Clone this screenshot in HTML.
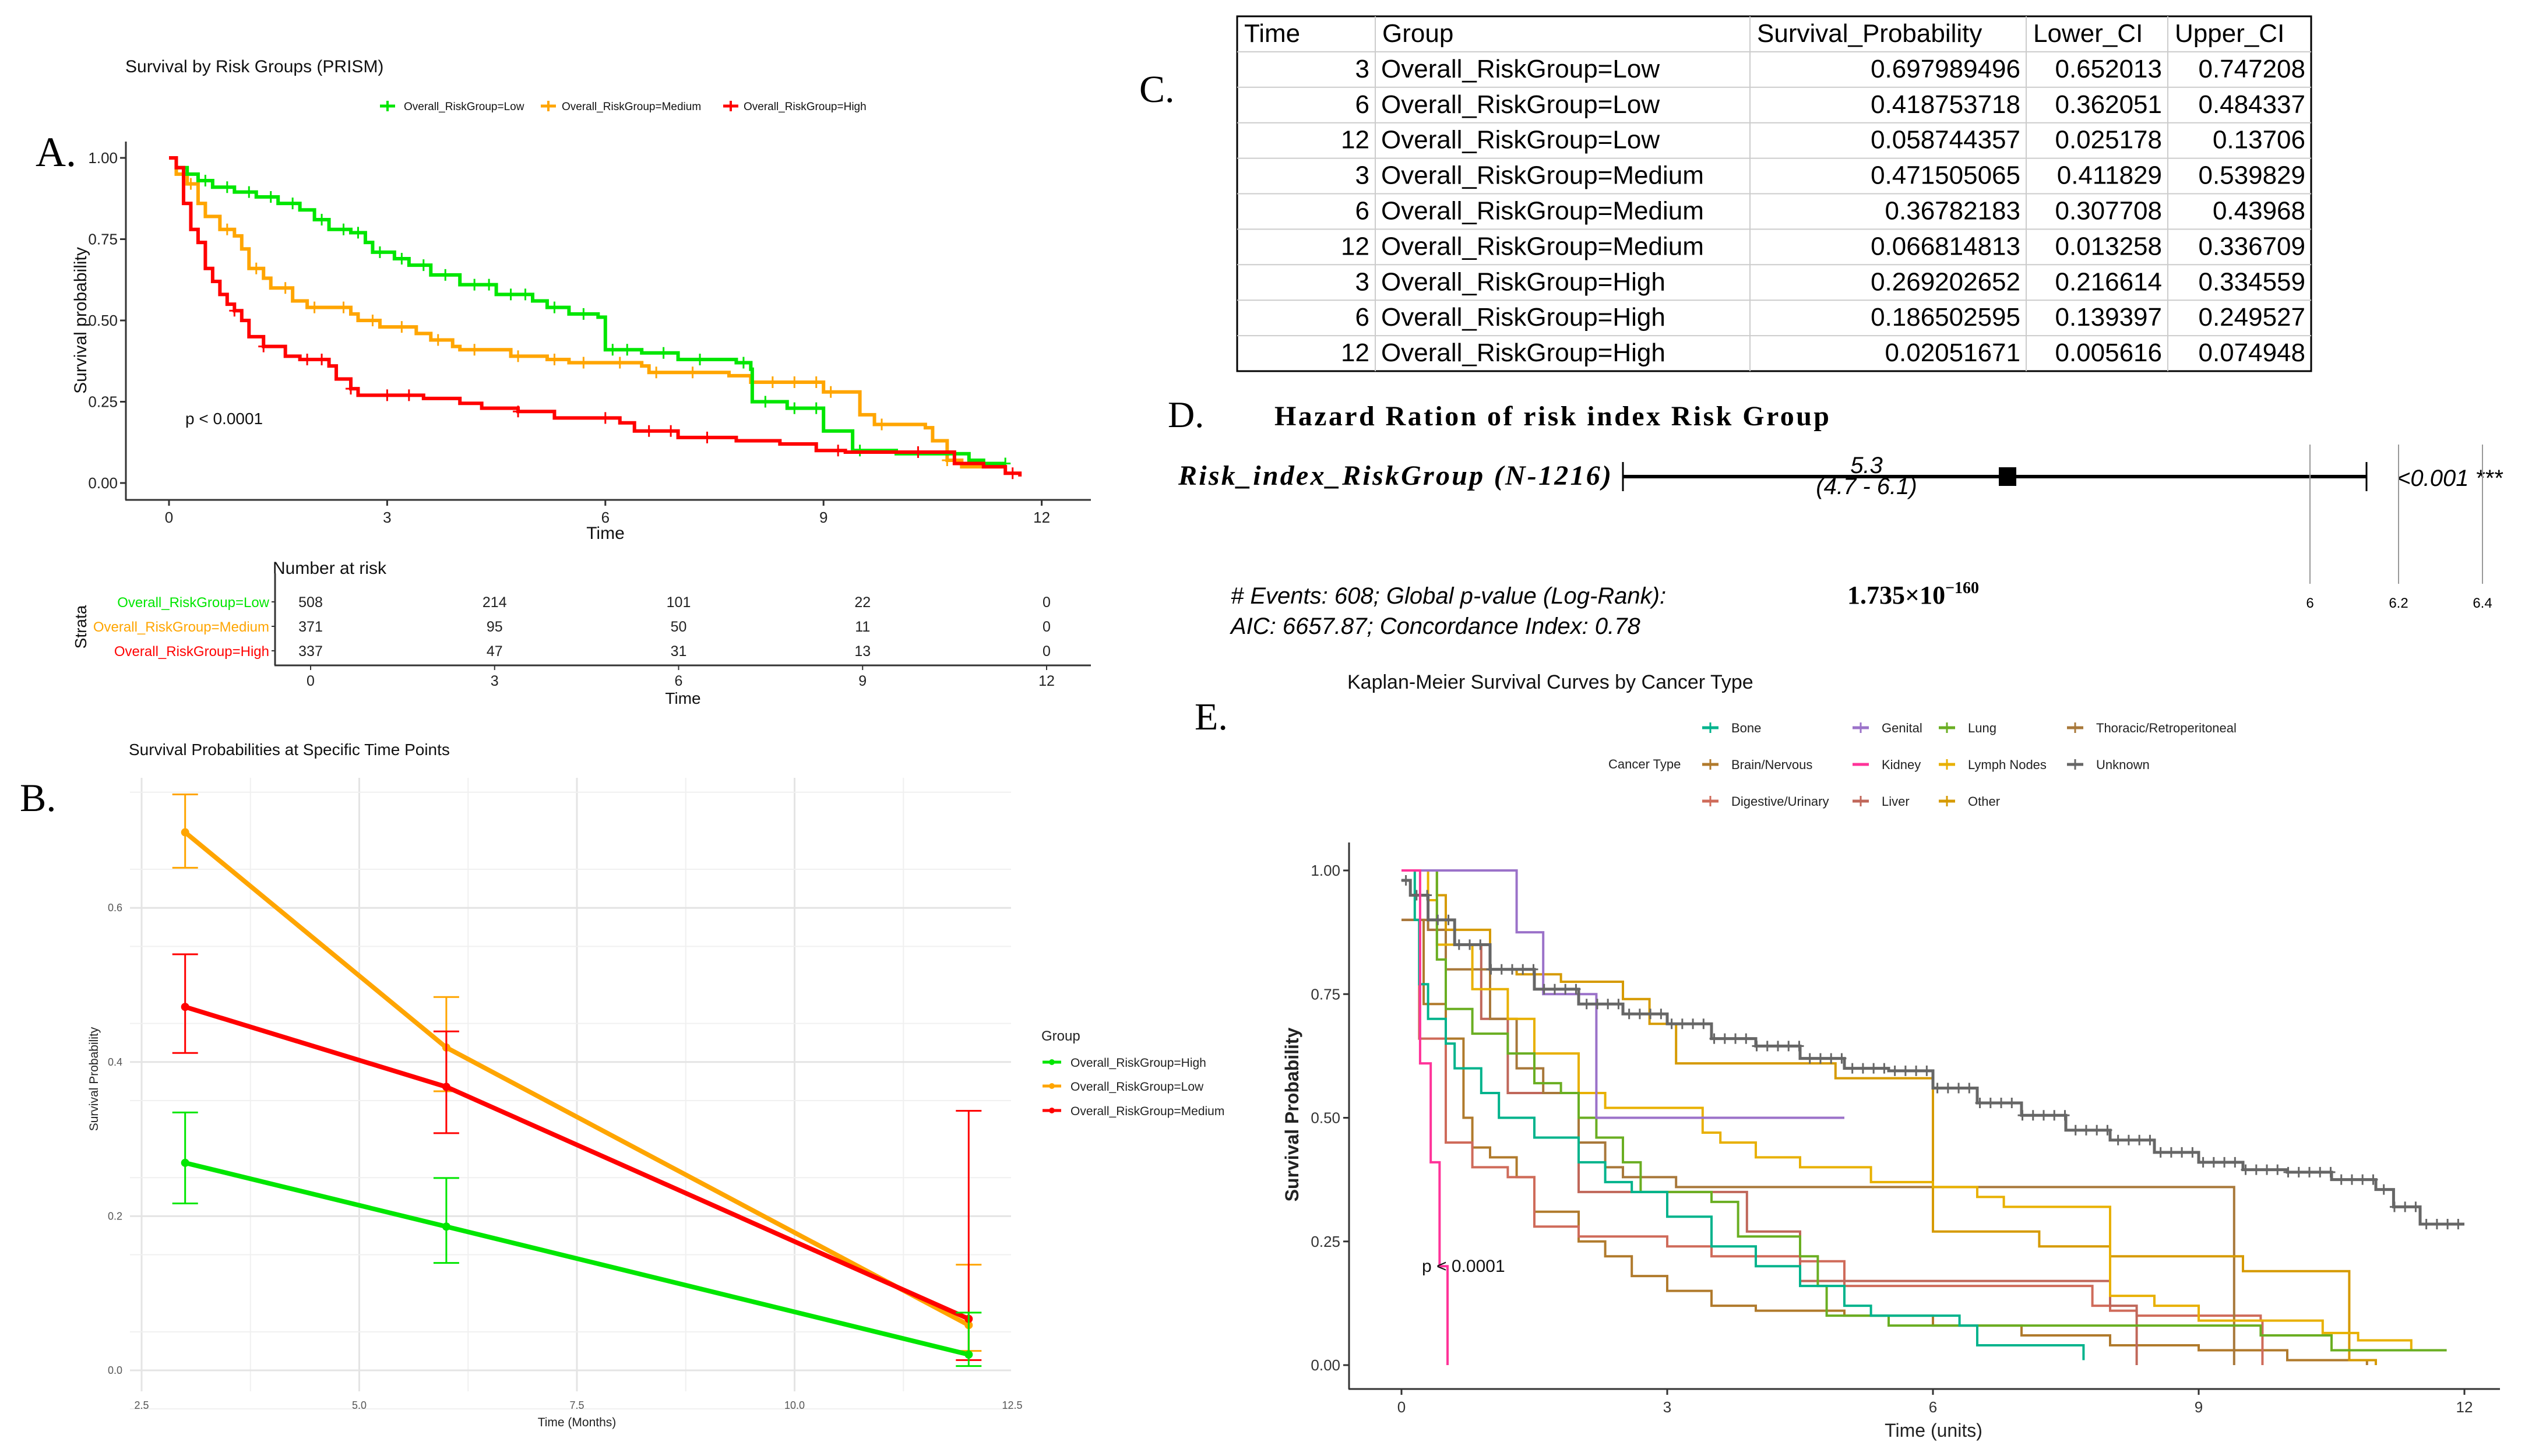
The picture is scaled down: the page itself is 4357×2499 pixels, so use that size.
<!DOCTYPE html>
<html><head><meta charset="utf-8"><style>
html,body{margin:0;padding:0;background:#fff;}
svg{display:block;font-family:"Liberation Sans",Arial,sans-serif;}
</style></head><body>
<svg id="fig" xmlns="http://www.w3.org/2000/svg" width="4357" height="2499" viewBox="0 0 4357 2499">
<rect width="4357" height="2499" fill="#fff"/>
<!-- Panel A static -->
<g id="panelA">
<text x="61" y="285" font-family="Liberation Serif,serif" font-size="72">A.</text>
<text x="215" y="124" font-size="30" fill="#111">Survival by Risk Groups (PRISM)</text>
<g font-size="19" fill="#111">
<line x1="652" y1="182" x2="678" y2="182" stroke="#00e600" stroke-width="5"/><line x1="665" y1="173" x2="665" y2="191" stroke="#00e600" stroke-width="4"/>
<text x="693" y="189">Overall_RiskGroup=Low</text>
<line x1="928" y1="182" x2="954" y2="182" stroke="#ffa500" stroke-width="5"/><line x1="941" y1="173" x2="941" y2="191" stroke="#ffa500" stroke-width="4"/>
<text x="964" y="189">Overall_RiskGroup=Medium</text>
<line x1="1241" y1="182" x2="1267" y2="182" stroke="#ff0000" stroke-width="5"/><line x1="1254" y1="173" x2="1254" y2="191" stroke="#ff0000" stroke-width="4"/>
<text x="1276" y="189">Overall_RiskGroup=High</text>
</g>
<line x1="216" y1="243" x2="216" y2="858" stroke="#333" stroke-width="3"/>
<line x1="215" y1="858" x2="1872" y2="858" stroke="#333" stroke-width="3"/>
<text transform="translate(148,550) rotate(-90)" text-anchor="middle" font-size="30" fill="#111">Survival probability</text>
<text x="1039" y="925" text-anchor="middle" font-size="30" fill="#111">Time</text>
<text x="318" y="728" font-size="28" fill="#111">p &lt; 0.0001</text>
<g id="aTicks"></g>
<g id="aCurves"></g>
<!-- risk table -->
<text x="468" y="985" font-size="30" fill="#111">Number at risk</text>
<line x1="472" y1="984" x2="472" y2="1142" stroke="#333" stroke-width="3"/>
<line x1="471" y1="1142" x2="1872" y2="1142" stroke="#333" stroke-width="3"/>
<text transform="translate(148,1076) rotate(-90)" text-anchor="middle" font-size="28" fill="#111">Strata</text>
<text x="1172" y="1208" text-anchor="middle" font-size="28" fill="#111">Time</text>
<g id="riskTable"></g>
</g>
<!-- Panel B -->
<g id="panelB">
<text x="34" y="1392" font-family="Liberation Serif,serif" font-size="68">B.</text>
<text x="221" y="1296" font-size="28" fill="#111">Survival Probabilities at Specific Time Points</text>
<g id="bGrid"></g>
<g id="bMarks"></g>
<text x="990" y="2448" text-anchor="middle" font-size="21" fill="#222">Time (Months)</text>
<text transform="translate(168,1852) rotate(-90)" text-anchor="middle" font-size="21" fill="#222">Survival Probability</text>
<g font-size="21" fill="#222">
<text x="1787" y="1786" font-size="24">Group</text>
<line x1="1789" y1="1823" x2="1821" y2="1823" stroke="#00e600" stroke-width="5"/><circle cx="1805" cy="1823" r="5" fill="#00e600"/>
<text x="1837" y="1831">Overall_RiskGroup=High</text>
<line x1="1789" y1="1864" x2="1821" y2="1864" stroke="#ffa500" stroke-width="5"/><circle cx="1805" cy="1864" r="5" fill="#ffa500"/>
<text x="1837" y="1872">Overall_RiskGroup=Low</text>
<line x1="1789" y1="1906" x2="1821" y2="1906" stroke="#ff0000" stroke-width="5"/><circle cx="1805" cy="1906" r="5" fill="#ff0000"/>
<text x="1837" y="1914">Overall_RiskGroup=Medium</text>
</g>
</g>
<!-- Panel C -->
<g id="panelC">
<text x="1955" y="175" font-family="Liberation Serif,serif" font-size="66">C.</text>
<g id="cTable"></g>
</g>
<!-- Panel D -->
<g id="panelD">
<text x="2004" y="733" font-family="Liberation Serif,serif" font-size="64">D.</text>
<text x="2187" y="730" font-family="Liberation Serif,serif" font-weight="bold" font-size="48" textLength="952">Hazard Ration of risk index  Risk Group</text>
<text x="2022" y="832" font-family="Liberation Serif,serif" font-style="italic" font-weight="bold" font-size="48" textLength="743">Risk_index_RiskGroup (N-1216)</text>
<line x1="2785" y1="818" x2="4061" y2="818" stroke="#000" stroke-width="6"/>
<line x1="2785" y1="793" x2="2785" y2="843" stroke="#000" stroke-width="3"/>
<line x1="4061" y1="793" x2="4061" y2="843" stroke="#000" stroke-width="3"/>
<rect x="3430" y="802" width="30" height="32" fill="#000"/>
<text x="3203" y="812" text-anchor="middle" font-size="40" font-style="italic">5.3</text>
<text x="3203" y="848" text-anchor="middle" font-size="40" font-style="italic">(4.7 - 6.1)</text>
<text x="4113" y="834" font-size="40" font-style="italic">&lt;0.001 ***</text>
<line x1="3964" y1="763" x2="3964" y2="1002" stroke="#999" stroke-width="2"/>
<line x1="4116" y1="763" x2="4116" y2="1002" stroke="#999" stroke-width="2"/>
<line x1="4260" y1="763" x2="4260" y2="1002" stroke="#999" stroke-width="2"/>
<text x="3964" y="1043" text-anchor="middle" font-size="24">6</text>
<text x="4116" y="1043" text-anchor="middle" font-size="24">6.2</text>
<text x="4260" y="1043" text-anchor="middle" font-size="24">6.4</text>
<text x="2112" y="1036" font-size="40" font-style="italic"># Events: 608; Global p-value (Log-Rank):</text>
<text x="3170" y="1036" font-family="Liberation Serif,serif" font-weight="bold" font-size="44">1.735×10<tspan dy="-18" font-size="28">−160</tspan></text>
<text x="2112" y="1088" font-size="40" font-style="italic">AIC: 6657.87; Concordance Index: 0.78</text>
</g>
<!-- Panel E -->
<g id="panelE">
<text x="2050" y="1252" font-family="Liberation Serif,serif" font-size="66">E.</text>
<text x="2312" y="1182" font-size="34" fill="#111">Kaplan-Meier Survival Curves by Cancer Type</text>
<text x="2760" y="1319" font-size="22" fill="#222">Cancer Type</text>
<g id="eLegend"></g>
<line x1="2315" y1="1446" x2="2315" y2="2384" stroke="#333" stroke-width="3"/>
<line x1="2314" y1="2384" x2="4290" y2="2384" stroke="#333" stroke-width="3"/>
<text transform="translate(2228,1913) rotate(-90)" text-anchor="middle" font-size="32" font-weight="bold" fill="#222">Survival Probability</text>
<text x="3318" y="2466" text-anchor="middle" font-size="32" fill="#222">Time (units)</text>
<g id="eTicks"></g>
<g id="eCurves"></g>
<text x="2440" y="2183" font-size="30" fill="#111">p &lt; 0.0001</text>
</g>
</svg>
<script>
const NS="http://www.w3.org/2000/svg";
function mk(tag,attrs,parent,txt){const e=document.createElementNS(NS,tag);for(const k in attrs)e.setAttribute(k,attrs[k]);if(txt!==undefined)e.textContent=txt;parent.appendChild(e);return e;}
function stepPath(pts,fx,fy){let d="M"+fx(pts[0][0])+","+fy(pts[0][1]);for(let i=1;i<pts.length;i++){d+="H"+fx(pts[i][0])+"V"+fy(pts[i][1]);}return d;}
function stepAt(pts,t){let s=pts[0][1];for(const p of pts){if(p[0]<=t)s=p[1];}return s;}

// ===== Panel A data =====
const aTicksX=[0,3,6,12/4*3,12];
const aTicksY=[0,0.25,0.5,0.75,1];
const aLow=[[0,1],[0.1,0.97],[0.25,0.95],[0.4,0.93],[0.6,0.91],[0.9,0.895],[1.2,0.88],[1.5,0.86],[1.8,0.84],[2,0.81],[2.2,0.78],[2.5,0.77],[2.7,0.74],[2.8,0.71],[3.1,0.69],[3.3,0.67],[3.6,0.64],[4,0.61],[4.5,0.58],[5,0.56],[5.2,0.54],[5.5,0.52],[5.9,0.51],[6,0.41],[6.5,0.40],[7,0.38],[7.8,0.37],[8,0.35],[8.02,0.25],[8.5,0.23],[9,0.16],[9.4,0.10],[10,0.09],[10.8,0.09],[11,0.07],[11.2,0.06],[11.5,0.06]];
const aMed=[[0,1],[0.1,0.95],[0.25,0.92],[0.4,0.86],[0.5,0.82],[0.7,0.78],[0.9,0.76],[1.0,0.72],[1.1,0.66],[1.3,0.63],[1.4,0.6],[1.7,0.56],[1.9,0.54],[2.5,0.52],[2.6,0.50],[2.9,0.48],[3.4,0.46],[3.6,0.44],[3.9,0.42],[4.0,0.41],[4.7,0.39],[5.2,0.38],[5.5,0.37],[6.5,0.36],[6.6,0.34],[7.7,0.33],[8.0,0.31],[9.0,0.28],[9.5,0.21],[9.7,0.18],[10.4,0.17],[10.5,0.13],[10.7,0.07],[10.9,0.05],[11.5,0.05]];
const aHigh=[[0,1],[0.1,0.97],[0.2,0.86],[0.3,0.78],[0.4,0.74],[0.5,0.66],[0.6,0.62],[0.7,0.58],[0.8,0.55],[0.9,0.53],[1.0,0.5],[1.1,0.45],[1.3,0.42],[1.6,0.39],[1.8,0.38],[2.2,0.36],[2.3,0.32],[2.5,0.29],[2.6,0.27],[3.5,0.26],[4.0,0.245],[4.3,0.23],[4.8,0.22],[5.3,0.2],[6.2,0.185],[6.4,0.16],[7.0,0.14],[7.8,0.13],[8.4,0.12],[8.9,0.10],[9.3,0.095],[10.8,0.06],[11.2,0.05],[11.5,0.03],[11.7,0.02]];
const aCensLow=[0.5,0.8,1.1,1.4,1.7,2.1,2.4,2.6,2.9,3.2,3.5,3.8,4.2,4.4,4.7,4.9,5.3,5.7,6.1,6.3,6.8,7.3,7.9,8.2,8.6,8.9,9.5,11.5];
const aCensMed=[0.3,0.8,1.2,1.6,2.0,2.4,2.8,3.2,3.7,4.2,4.8,5.3,5.7,6.2,6.7,7.2,8.3,8.6,8.9,9.1,9.8,10.7];
const aCensHigh=[0.9,1.3,1.9,2.1,2.5,3.0,3.3,4.8,6.0,6.6,6.9,7.4,9.2,10.3,11.6];
const riskRows=["Overall_RiskGroup=Low","Overall_RiskGroup=Medium","Overall_RiskGroup=High"];
const riskLow=[508,214,101,22,0];
const riskMed=[371,95,50,11,0];
const riskHigh=[337,47,31,13,0];
const riskTimes=[0,3,6,9,12];

const ax=t=>290+t*124.8, ay=s=>829-s*558;
const aT=document.getElementById('aTicks');
[0,3,6,9,12].forEach(t=>{const l=mk('line',{x1:ax(t),y1:858,x2:ax(t),y2:868,stroke:'#333','stroke-width':3},aT);


const tx=mk('text',{x:ax(t),y:897,'text-anchor':'middle','font-size':26,fill:'#222'},aT,String(t));

});
aTicksY.forEach(s=>{mk('line',{x1:206,y1:ay(s),x2:216,y2:ay(s),stroke:'#333','stroke-width':3},aT);
const tx=mk('text',{x:202,y:ay(s)+9,'text-anchor':'end','font-size':26,fill:'#222'},aT,s.toFixed(2));

});
const aC=document.getElementById('aCurves');
[[aMed,aCensMed,'#ffa500','curve-medium'],[aLow,aCensLow,'#00e600','curve-low'],[aHigh,aCensHigh,'#ff0000','curve-high']].forEach(([pts,cens,col,nm])=>{
 const p=mk('path',{d:stepPath(pts,ax,ay),fill:'none',stroke:col,'stroke-width':6},aC);
 
 
 cens.forEach(t=>{const x=ax(t),y=ay(stepAt(pts,t));mk('path',{d:`M${x-9},${y}H${x+9}M${x},${y-10}V${y+10}`,stroke:col,'stroke-width':3},aC);});
});
const rT=document.getElementById('riskTable');
const rCols=['#00e600','#ffa500','#ff0000'];
const rx=t=>533+t*105.25;
[riskLow,riskMed,riskHigh].forEach((row,i)=>{const y=1033+i*42;
 const lb=mk('text',{x:462,y:y+9,'text-anchor':'end','font-size':24,fill:rCols[i]},rT,riskRows[i]);
 
 
 mk('line',{x1:466,y1:y,x2:472,y2:y,stroke:'#333','stroke-width':2},rT);
 row.forEach((v,j)=>{const c=mk('text',{x:rx(riskTimes[j]),y:y+9,'text-anchor':'middle','font-size':25,fill:'#222'},rT,String(v));
 
 });});
riskTimes.forEach(t=>{mk('line',{x1:rx(t),y1:1142,x2:rx(t),y2:1150,stroke:'#333','stroke-width':2},rT);mk('text',{x:rx(t),y:1177,'text-anchor':'middle','font-size':25,fill:'#222'},rT,String(t));});

// ===== Panel B data =====
const bTimes=[3,6,12];
const bHighEst=[0.2692,0.1865,0.0205];
const bHighLo=[0.2166,0.1394,0.0056];
const bHighHi=[0.3346,0.2495,0.0749];
const bLowEst=[0.6980,0.4188,0.0587];
const bLowLo=[0.6520,0.3621,0.0252];
const bLowHi=[0.7472,0.4843,0.1371];
const bMedEst=[0.4715,0.3678,0.0668];
const bMedLo=[0.4118,0.3077,0.0133];
const bMedHi=[0.5398,0.4397,0.3367];
const bXTicks=[2.5,5.0,7.5,10.0,12.5];
const bYTicks=[0.0,0.2,0.4,0.6];
const bx=t=>243+(t-2.5)*149.4, by=s=>2352-s*1323;
const bG=document.getElementById('bGrid');
for(let t=1.25;t<=13.75;t+=1.25){const maj=Math.abs(t/2.5-Math.round(t/2.5))<1e-6;const x=bx(t);if(x<223||x>1735)continue;mk('line',{x1:x,y1:1335,x2:x,y2:2388,stroke:maj?'#e4e4e4':'#f0f0f0','stroke-width':maj?3:2},bG);}
for(let s=-0.05;s<=0.75;s+=0.1){const y=by(s);mk('line',{x1:223,y1:y,x2:1735,y2:y,stroke:'#f0f0f0','stroke-width':2},bG);}
bYTicks.forEach(s=>{mk('line',{x1:223,y1:by(s),x2:1735,y2:by(s),stroke:'#e4e4e4','stroke-width':3},bG);
const t=mk('text',{x:210,y:by(s)+6,'text-anchor':'end','font-size':18,fill:'#555'},bG,s.toFixed(1));

});
bXTicks.forEach(v=>{const t=mk('text',{x:bx(v),y:2418,'text-anchor':'middle','font-size':18,fill:'#555'},bG,v.toFixed(1));

});
const bM=document.getElementById('bMarks');
[[bLowEst,bLowLo,bLowHi,'#ffa500','series-low'],[bMedEst,bMedLo,bMedHi,'#ff0000','series-medium'],[bHighEst,bHighLo,bHighHi,'#00e600','series-high']].forEach(([e,lo,hi,col,nm])=>{
 bTimes.forEach((t,i)=>{const x=bx(t);const g=mk('g',{},bM);
 
 
 mk('path',{d:`M${x},${by(lo[i])}V${by(hi[i])}M${x-22},${by(lo[i])}H${x+22}M${x-22},${by(hi[i])}H${x+22}`,stroke:col,'stroke-width':3,fill:'none'},g);});
 const pl=mk('polyline',{points:bTimes.map((t,i)=>bx(t)+','+by(e[i])).join(' '),fill:'none',stroke:col,'stroke-width':8},bM);
 
 
 bTimes.forEach((t,i)=>{const c=mk('circle',{cx:bx(t),cy:by(e[i]),r:7,fill:col},bM);
 
 });
});

// ===== Panel C table =====
const cHeader=["Time","Group","Survival_Probability","Lower_CI","Upper_CI"];
const cTime=[3,6,12,3,6,12,3,6,12];
const cGroup=["Overall_RiskGroup=Low","Overall_RiskGroup=Low","Overall_RiskGroup=Low","Overall_RiskGroup=Medium","Overall_RiskGroup=Medium","Overall_RiskGroup=Medium","Overall_RiskGroup=High","Overall_RiskGroup=High","Overall_RiskGroup=High"];
const cSurv=["0.697989496","0.418753718","0.058744357","0.471505065","0.36782183","0.066814813","0.269202652","0.186502595","0.02051671"];
const cLower=["0.652013","0.362051","0.025178","0.411829","0.307708","0.013258","0.216614","0.139397","0.005616"];
const cUpper=["0.747208","0.484337","0.13706","0.539829","0.43968","0.336709","0.334559","0.249527","0.074948"];
const cT=document.getElementById('cTable');
const colX=[2123,2360,3003,3477,3720,3966];
const rowH=60.9,top0=28;
mk('rect',{x:2123,y:top0,width:3966-2123,height:rowH*10,fill:'#fff',stroke:'#000','stroke-width':3},cT);
for(let r=1;r<10;r++)mk('line',{x1:2123,y1:top0+r*rowH,x2:3966,y2:top0+r*rowH,stroke:'#ccc','stroke-width':2},cT);
for(let c=1;c<5;c++)mk('line',{x1:colX[c],y1:top0,x2:colX[c],y2:top0+rowH*10,stroke:'#ccc','stroke-width':2},cT);
cHeader.forEach((h,c)=>{const t=mk('text',{x:colX[c]+12,y:top0+44,'font-size':44},cT,h);

});
for(let r=0;r<9;r++){const y=top0+(r+1)*rowH+44;
 mk('text',{x:colX[1]-10,y:y,'font-size':44,'text-anchor':'end'},cT,String(cTime[r]));
 mk('text',{x:colX[1]+10,y:y,'font-size':44},cT,cGroup[r]);
 mk('text',{x:colX[3]-10,y:y,'font-size':44,'text-anchor':'end'},cT,cSurv[r]);
 mk('text',{x:colX[4]-10,y:y,'font-size':44,'text-anchor':'end'},cT,cLower[r]);
 mk('text',{x:colX[5]-10,y:y,'font-size':44,'text-anchor':'end'},cT,cUpper[r]);}

// ===== Panel E data =====
const eNames=["Bone","Brain/Nervous","Digestive/Urinary","Genital","Kidney","Liver","Lung","Lymph Nodes","Other","Thoracic/Retroperitoneal","Unknown"];
const eColors=["#00b38c","#b07a2c","#cf6b5a","#9b72c9","#ff3399","#c0675a","#6aae22","#e8b000","#d69a00","#a8783a","#666666"];
const eBone=[[0,1],[0.15,0.9],[0.2,0.77],[0.3,0.70],[0.5,0.65],[0.6,0.6],[0.9,0.55],[1.1,0.5],[1.5,0.46],[2,0.41],[2.3,0.37],[2.6,0.35],[3,0.30],[3.5,0.24],[4,0.20],[4.5,0.16],[5,0.12],[5.3,0.10],[6.3,0.08],[6.5,0.04],[7.5,0.04],[7.7,0.01]];
const eBrain=[[0,0.9],[0.25,0.73],[0.5,0.66],[0.7,0.5],[0.8,0.44],[1,0.42],[1.3,0.38],[1.5,0.31],[2,0.25],[2.3,0.22],[2.6,0.18],[3,0.15],[3.5,0.12],[4,0.11],[5,0.10],[6,0.08],[7,0.06],[8,0.04],[9,0.03],[10,0.01],[10.9,0]];
const eDigest=[[0,0.9],[0.2,0.66],[0.5,0.45],[0.8,0.4],[1.2,0.38],[1.5,0.28],[2,0.26],[3,0.24],[3.5,0.22],[4.5,0.21],[5,0.16],[7.5,0.16],[7.8,0.12],[8,0.11],[8.3,0.1],[9.7,0.09],[9.72,0]];
const eGenital=[[0,1],[1.3,0.875],[1.6,0.75],[2.2,0.5],[5.0,0.5]];
const eKidney=[[0,1],[0.21,0.61],[0.33,0.41],[0.43,0.2],[0.52,0]];
const eLiver=[[0,0.9],[0.3,0.88],[0.6,0.85],[0.9,0.7],[1.2,0.55],[2,0.35],[3.9,0.27],[4.5,0.17],[8.0,0.12],[8.3,0]];
const eLung=[[0,1],[0.4,0.82],[0.5,0.72],[0.8,0.67],[1.2,0.63],[1.5,0.57],[1.8,0.55],[2,0.5],[2.2,0.46],[2.5,0.41],[2.7,0.35],[3.5,0.33],[3.8,0.26],[4.5,0.22],[4.7,0.16],[4.8,0.10],[5.5,0.08],[9.7,0.06],[10.5,0.03],[11.8,0.03]];
const eLymph=[[0,1],[0.3,0.94],[0.4,0.85],[0.8,0.76],[1.2,0.70],[1.5,0.63],[2,0.55],[2.3,0.52],[3.4,0.47],[3.6,0.45],[4,0.42],[4.5,0.40],[5.3,0.37],[6,0.36],[6.5,0.34],[6.8,0.32],[8,0.14],[8.5,0.12],[9,0.09],[10.4,0.065],[10.8,0.05],[11.4,0.03],[11.6,0.03]];
const eOther=[[0,1],[0.4,0.95],[0.5,0.88],[1,0.8],[1.3,0.79],[1.8,0.775],[2.5,0.74],[2.8,0.69],[3.1,0.61],[4.9,0.58],[6,0.27],[7.2,0.24],[8,0.22],[9.5,0.19],[10.7,0.01],[11.0,0]];
const eThor=[[0,0.9],[0.3,0.88],[0.5,0.8],[1,0.7],[1.3,0.6],[1.6,0.55],[2,0.45],[2.3,0.4],[2.5,0.38],[3.1,0.36],[9.4,0]];
const eUnknown=[[0,0.98],[0.1,0.95],[0.3,0.90],[0.6,0.85],[1,0.80],[1.5,0.76],[2,0.73],[2.5,0.71],[3,0.69],[3.5,0.66],[4,0.645],[4.5,0.62],[5,0.60],[5.5,0.595],[6,0.56],[6.5,0.53],[7,0.505],[7.5,0.475],[8,0.455],[8.5,0.43],[9,0.41],[9.5,0.395],[10,0.39],[10.5,0.375],[11,0.355],[11.2,0.32],[11.5,0.285],[12,0.285]];
const eXTicks=[0,3,6,9,12];
const eYTicks=[0,0.25,0.5,0.75,1];
const ex=t=>2405+t*152, ey=s=>2343-s*849;
const eT=document.getElementById('eTicks');
eXTicks.forEach(t=>{mk('line',{x1:ex(t),y1:2384,x2:ex(t),y2:2394,stroke:'#333','stroke-width':3},eT);
const tx=mk('text',{x:ex(t),y:2424,'text-anchor':'middle','font-size':26,fill:'#333'},eT,String(t));

});
eYTicks.forEach(s=>{mk('line',{x1:2305,y1:ey(s),x2:2315,y2:ey(s),stroke:'#333','stroke-width':3},eT);
const tx=mk('text',{x:2300,y:ey(s)+9,'text-anchor':'end','font-size':26,fill:'#333'},eT,s.toFixed(2));

});
const eC=document.getElementById('eCurves');
const eSeries=[eBrain,eDigest,eLiver,eThor,eOther,eLymph,eLung,eBone,eGenital,eUnknown,eKidney];
const eIdx=[1,2,5,9,8,7,6,0,3,10,4];
eSeries.forEach((pts,k)=>{const i=eIdx[k];
 const p=mk('path',{d:stepPath(pts,ex,ey),fill:'none',stroke:eColors[i],'stroke-width':i==10?5:4},eC);
 
 
 if(i==10){for(let t=0.05;t<12;t+=0.12){const x=ex(t),y=ey(stepAt(pts,t));mk('path',{d:`M${x-8},${y}H${x+8}M${x},${y-9}V${y+9}`,stroke:eColors[i],'stroke-width':3},eC);}}
});
// legend
const eL=document.getElementById('eLegend');
const legPos=[[2935,1249],[2935,1312],[2935,1375],[3193,1249],[3193,1312],[3193,1375],[3341,1249],[3341,1312],[3341,1375],[3561,1249],[3561,1312]];
eNames.forEach((n,i)=>{const [x,y]=legPos[i];
 mk('line',{x1:x-14,y1:y,x2:x+14,y2:y,stroke:eColors[i],'stroke-width':5},eL);
 if(i!=4)mk('line',{x1:x,y1:y-9,x2:x,y2:y+9,stroke:eColors[i],'stroke-width':3},eL);
 const t=mk('text',{x:x+36,y:y+8,'font-size':22,fill:'#222'},eL,n);
 
 });
</script>
</body></html>
